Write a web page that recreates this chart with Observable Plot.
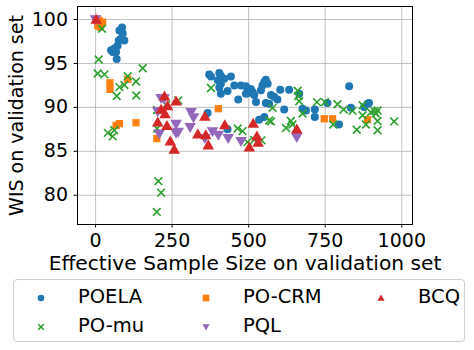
<!DOCTYPE html>
<html>
<head>
<meta charset="utf-8">
<script src="https://cdn.jsdelivr.net/npm/d3@7"></script>
<script src="https://cdn.jsdelivr.net/npm/@observablehq/plot@0.6"></script>
<style>
  html, body { margin: 0; padding: 0; background: #fff; }
  #wrap { position: relative; width: 474px; height: 350px; font-family: "DejaVu Sans", sans-serif; }
  #legend { position: absolute; left: 13px; top: 279px; width: 452px; height: 63px;
            border: 1px solid #d0d0d0; border-radius: 4px; box-sizing: border-box; }
  .item { position: absolute; font-size: 19.5px; line-height: 20px; color: #000; }
  .item svg { position: absolute; left: 0; top: 0; overflow: visible; }
  .item span { position: absolute; white-space: nowrap; }
</style>
</head>
<body>
<div id="wrap"><div id="chart"></div><div id="legend"></div></div>
<script>
const methods = ["POELA", "PO-mu", "PO-CRM", "PQL", "BCQ"];
const colors = ["#1f77b4", "#2ca02c", "#ff7f0e", "#9467bd", "#d62728"];
const xTicks = [0, 250, 500, 750, 1000];
const yTicks = [80, 85, 90, 95, 100];

// [effective sample size, WIS]
const poela = [
  [86.5,99.1],[77.8,98.75],[88.7,98.4],[83,97.8],[94,97.6],[75.6,97.6],[72,97.0],[61,96.7],
  [50.6,96.5],[67,96.3],[56,96.3],[69,95.5],
  [371,93.75],[377,93.5],[404,93.9],[409,93.6],[399,93.1],[420,93.25],[442,93.5],[409,92.7],
  [404,92.25],[431,91.85],[409,91.55],[453,92.5],[475,92.5],[491,92.4],[507,92.1],[513,91.75],
  [518,91.4],[496,91.6],[524,90.6],[551,92.9],[545,92.5],[562,92.7],[556,93.15],[540,91.95],
  [573,91.4],[583,91.2],[594,90.9],[556,90.5],[567,90.4],[603,92.0],[632,92.0],[665,91.55],
  [616,89.75],[687,89.65],[676,89.85],[716,89.75],[716,88.9],[828,92.4],[757,90.5],[834,89.95],
  [888,90.4],[893,90.5],[877,90.05],[534,88.6],[551,88.9],[431,87.5],[366,89.35],[795,88.05],
  [466,90.9],[491,91.55]
];
const pomu = [
  [21,98.95],[10,95.45],[7,93.85],[29,93.75],[105,93.55],[154,94.45],[132,92.95],[78,92.3],
  [69,91.3],[94,92.55],[133,91.35],[40,87.1],[56,86.7],[61,87.4],[201,87.6],[201,89.7],
  [230,90.3],[270,90.8],[205,81.6],[214,80.3],[200,78.1],[377,92.2],[464,87.6],[480,87.3],
  [496,86.05],[518,86.3],[542,86.25],[567,88.5],[578,89.95],[573,88.4],[660,91.9],[662,91.3],
  [665,90.7],[676,89.3],[638,88.45],[643,88.05],[622,87.65],[723,90.6],[749,90.6],[790,90.35],
  [810,89.75],[839,89.6],[872,90.25],[872,89.1],[899,89.45],[910,89.6],[921,89.65],[915,89.3],
  [921,88.45],[883,88.05],[853,87.45],[921,87.4],[975,88.4],[776,88.05]
];
const pocrm = [
  [2,100.05],[12,99.9],[18,99.5],[7,99.3],[15,99.15],[23,99.7],[47,92.8],[47,92.05],[105,93.2],
  [67,87.95],[78,88.15],[132,88.25],[200,86.45],[401,89.85],[747,88.7],[774,88.7],[888,88.6]
];
const pql = [
  [0,100.1],[214,91.15],[224,91.1],[203,89.65],[208,87.1],[263,88.2],[263,87.2],[270,87.3],
  [312,89.55],[320,88.95],[309,87.85],[357,86.6],[382,87.35],[401,86.95],[433,86.6],[475,86.25],
  [657,86.7]
];
const bcq = [
  [2,99.9],[225,91.15],[214,89.65],[227,89.15],[203,88.2],[233,87.8],[244,86.05],[257,85.1],
  [235,90.05],[263,90.6],[357,88.85],[334,86.85],[360,86.75],[368,85.6],[422,87.9],[502,85.35],
  [515,88.05],[527,86.6],[531,85.9],[657,87.4]
];

const rows = [];
[poela, pomu, pocrm, pql, bcq].forEach((arr, i) => arr.forEach(([x, y]) => rows.push({method: methods[i], x, y})));
const by = m => rows.filter(d => d.method === m);

const font = "DejaVu Sans, sans-serif";
const chart = Plot.plot({
  width: 474,
  height: 276,
  marginLeft: 77,
  marginRight: 62,
  marginTop: 6,
  marginBottom: 52,
  style: {fontFamily: font, fontSize: "19px", background: "white", color: "black", overflow: "visible"},
  x: {domain: [-59, 1035], ticks: xTicks, label: null},
  y: {domain: [76.67, 101.48], ticks: yTicks, label: null},
  marks: [
    Plot.gridX(xTicks, {stroke: "#b0b0b0", strokeOpacity: 1, strokeWidth: 0.8}),
    Plot.gridY(yTicks, {stroke: "#b0b0b0", strokeOpacity: 1, strokeWidth: 0.8}),
    Plot.dot(by("POELA"), {x: "x", y: "y", symbol: "circle", r: 4, fill: colors[0], stroke: "none"}),
    Plot.dot(by("PO-CRM"), {x: "x", y: "y", symbol: "square", r: 4.1, fill: colors[2], stroke: "none"}),
    Plot.dot(by("PO-mu"), {x: "x", y: "y", symbol: "times", r: 3.6, stroke: colors[1], strokeWidth: 1.6, fill: "none"}),
    Plot.dot(by("PQL"), {x: "x", y: "y", symbol: "triangle", r: 4.3, rotate: 180, fill: colors[3], stroke: "none"}),
    Plot.dot(by("BCQ"), {x: "x", y: "y", symbol: "triangle", r: 4.3, fill: colors[4], stroke: "none"}),
    Plot.frame({stroke: "black", strokeWidth: 1}),
    Plot.axisX(xTicks, {tickSize: 3.5, tickPadding: 5, fontSize: 19, tickFormat: d3.format("d"), label: null}),
    Plot.axisY(yTicks, {tickSize: 3.5, tickPadding: 6, fontSize: 19, tickFormat: d3.format("d"),
      label: "WIS on validation set", labelAnchor: "center", labelOffset: 68, labelArrow: "none"}),
    Plot.text(["Effective Sample Size on validation set"], {frameAnchor: "bottom", dy: 39, lineAnchor: "middle", textAnchor: "middle", fontSize: 20.2, fill: "black"})
  ]
});
document.getElementById("chart").appendChild(chart);

// legend
const legend = document.getElementById("legend");
const legendItems = [
  {m: "POELA", col: 0, row: 0}, {m: "PO-mu", col: 0, row: 1},
  {m: "PO-CRM", col: 1, row: 0}, {m: "PQL", col: 1, row: 1},
  {m: "BCQ", col: 2, row: 0}
];
const colX = [27, 192, 367];
const rowY = [18, 47];
const sym = {
  "POELA": c => `<circle cx="0" cy="0" r="3.3" fill="${c}"/>`,
  "PO-mu": c => `<path d="M-2.8,-2.8L2.8,2.8M-2.8,2.8L2.8,-2.8" stroke="${c}" stroke-width="1.6"/>`,
  "PO-CRM": c => `<rect x="-3.3" y="-3.3" width="6.6" height="6.6" fill="${c}"/>`,
  "PQL": c => `<path d="M-3.6,-2.8L3.6,-2.8L0,3.6Z" fill="${c}"/>`,
  "BCQ": c => `<path d="M-3.6,2.8L3.6,2.8L0,-3.6Z" fill="${c}"/>`
};
legendItems.forEach(({m, col, row}) => {
  const c = colors[methods.indexOf(m)];
  const div = document.createElement("div");
  div.className = "item";
  div.style.left = colX[col] + "px";
  div.style.top = rowY[row] + "px";
  div.innerHTML = `<svg width="1" height="1">${sym[m](c)}</svg><span style="left:37px; top:-11px">${m}</span>`;
  legend.appendChild(div);
});
</script>
</body>
</html>
